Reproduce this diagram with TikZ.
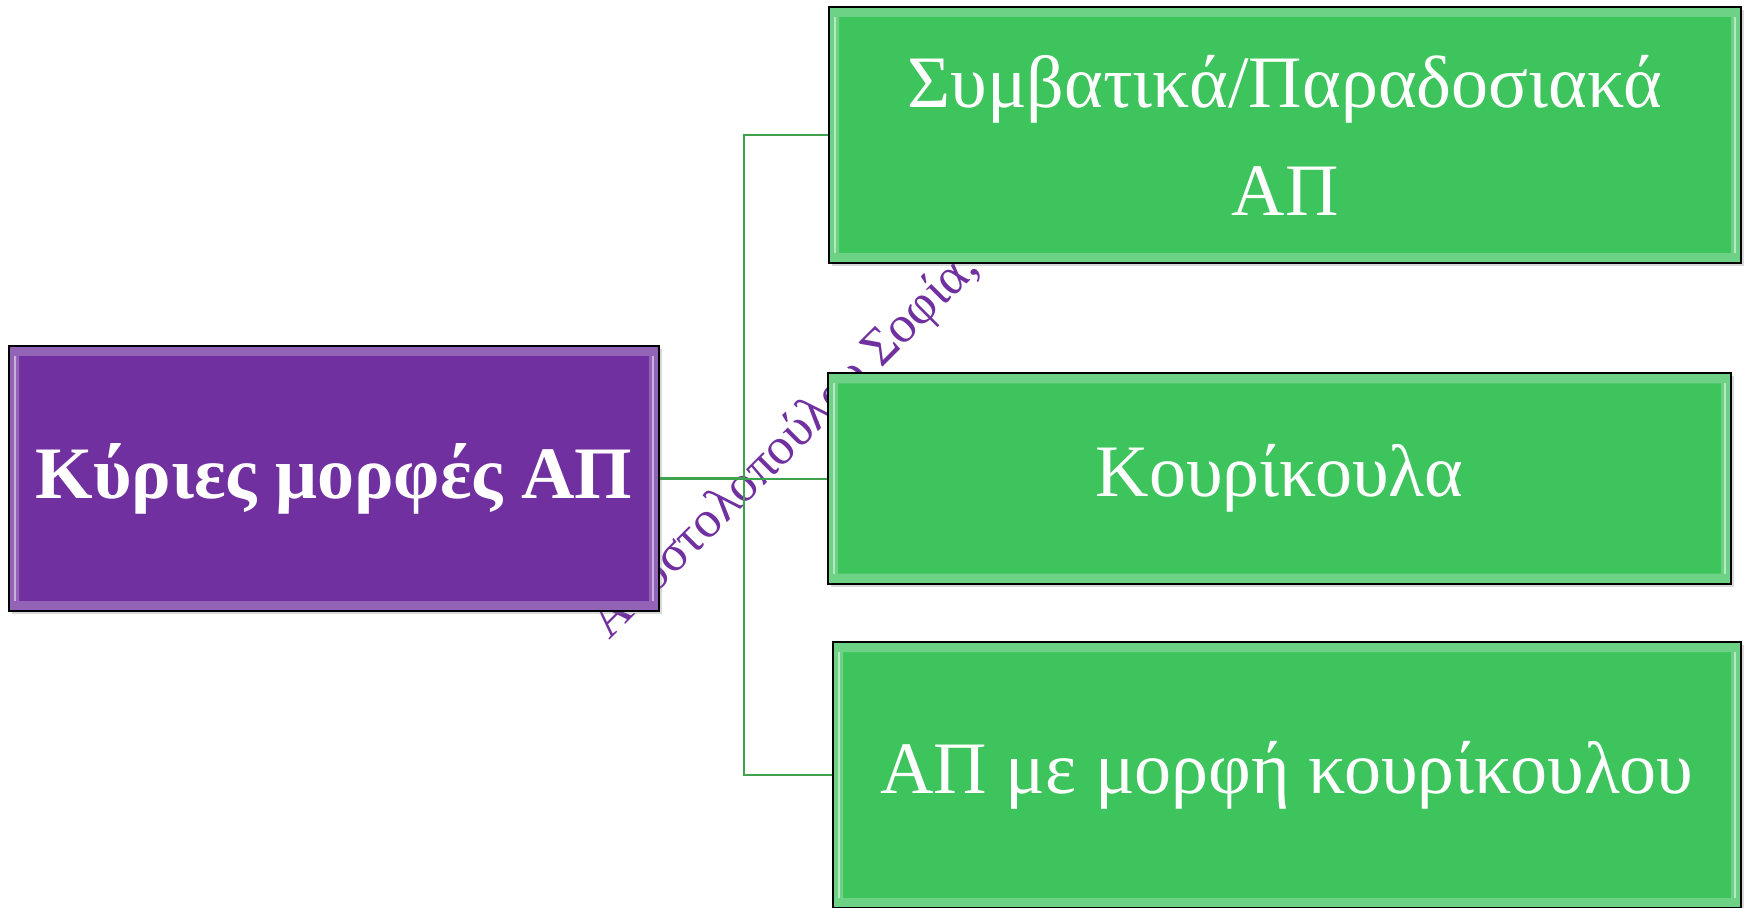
\documentclass[tikz,border=0pt]{standalone}
\usepackage{fontspec}
\setmainfont{Liberation Serif}
\usetikzlibrary{positioning, shadows}
\definecolor{mainpurple}{HTML}{7030A0}
\definecolor{boxgreen}{HTML}{3DC45D}
\definecolor{linkgreen}{HTML}{3FA34D}

\tikzset{
    box/.style={draw=black, line width=1pt, inner sep=0pt, text=white, align=center,
        font=\fontsize{37}{54}\selectfont,
        drop shadow={shadow xshift=1.5pt, shadow yshift=-1.5pt, opacity=0.3},
        path picture={
            \fill[white, opacity=0.25, even odd rule]
                (path picture bounding box.south west) rectangle (path picture bounding box.north east)
                ([shift={(5pt,5pt)}]path picture bounding box.south west) rectangle ([shift={(-5pt,-5pt)}]path picture bounding box.north east);
            \draw[white, opacity=0.5, line width=1pt]
                ([shift={(3pt,-5pt)}]path picture bounding box.north west) -- ([shift={(3pt,5pt)}]path picture bounding box.south west)
                ([shift={(-3pt,-5pt)}]path picture bounding box.north east) -- ([shift={(-3pt,5pt)}]path picture bounding box.south east);
        }},
    link/.style={draw=linkgreen, line width=1pt}
}

\begin{document}
\begin{tikzpicture}[x=0.5pt, y=-0.5pt]
    \useasboundingbox (0,0) rectangle (1748,908);
    % Watermark behind the boxes
    \node (mark) [rotate=45, text=mainpurple, font=\fontsize{26}{30}\selectfont] at (786,446) {Αποστολοπούλου Σοφία,};
    % Boxes
    \node (main) [box, fill=mainpurple, minimum width=325pt, minimum height=132.5pt, font=\bfseries\fontsize{37}{54}\selectfont] at (334,478.5) {Κύριες μορφές ΑΠ};
    \node (conv) [box, fill=boxgreen, minimum width=456pt, minimum height=128pt] at (1285,135) {Συμβατικά/Παραδοσιακά\\ΑΠ};
    \node (curr) [box, fill=boxgreen, minimum width=451.5pt, minimum height=105pt] at (1279.5,478.5) {Κουρίκουλα};
    \node (hybrid) [box, fill=boxgreen, minimum width=454pt, minimum height=133pt] at (1287,775) {ΑΠ με μορφή κουρίκουλου};
    % Connectors
    \coordinate (fork) at (744,478.5);
    \draw [link, line width=1.75pt] (main.east) -- (fork);
    \draw [link] (fork) -- (curr.west);
    \draw [link] (conv.west) -| (fork) |- (hybrid.west);
\end{tikzpicture}
\end{document}
